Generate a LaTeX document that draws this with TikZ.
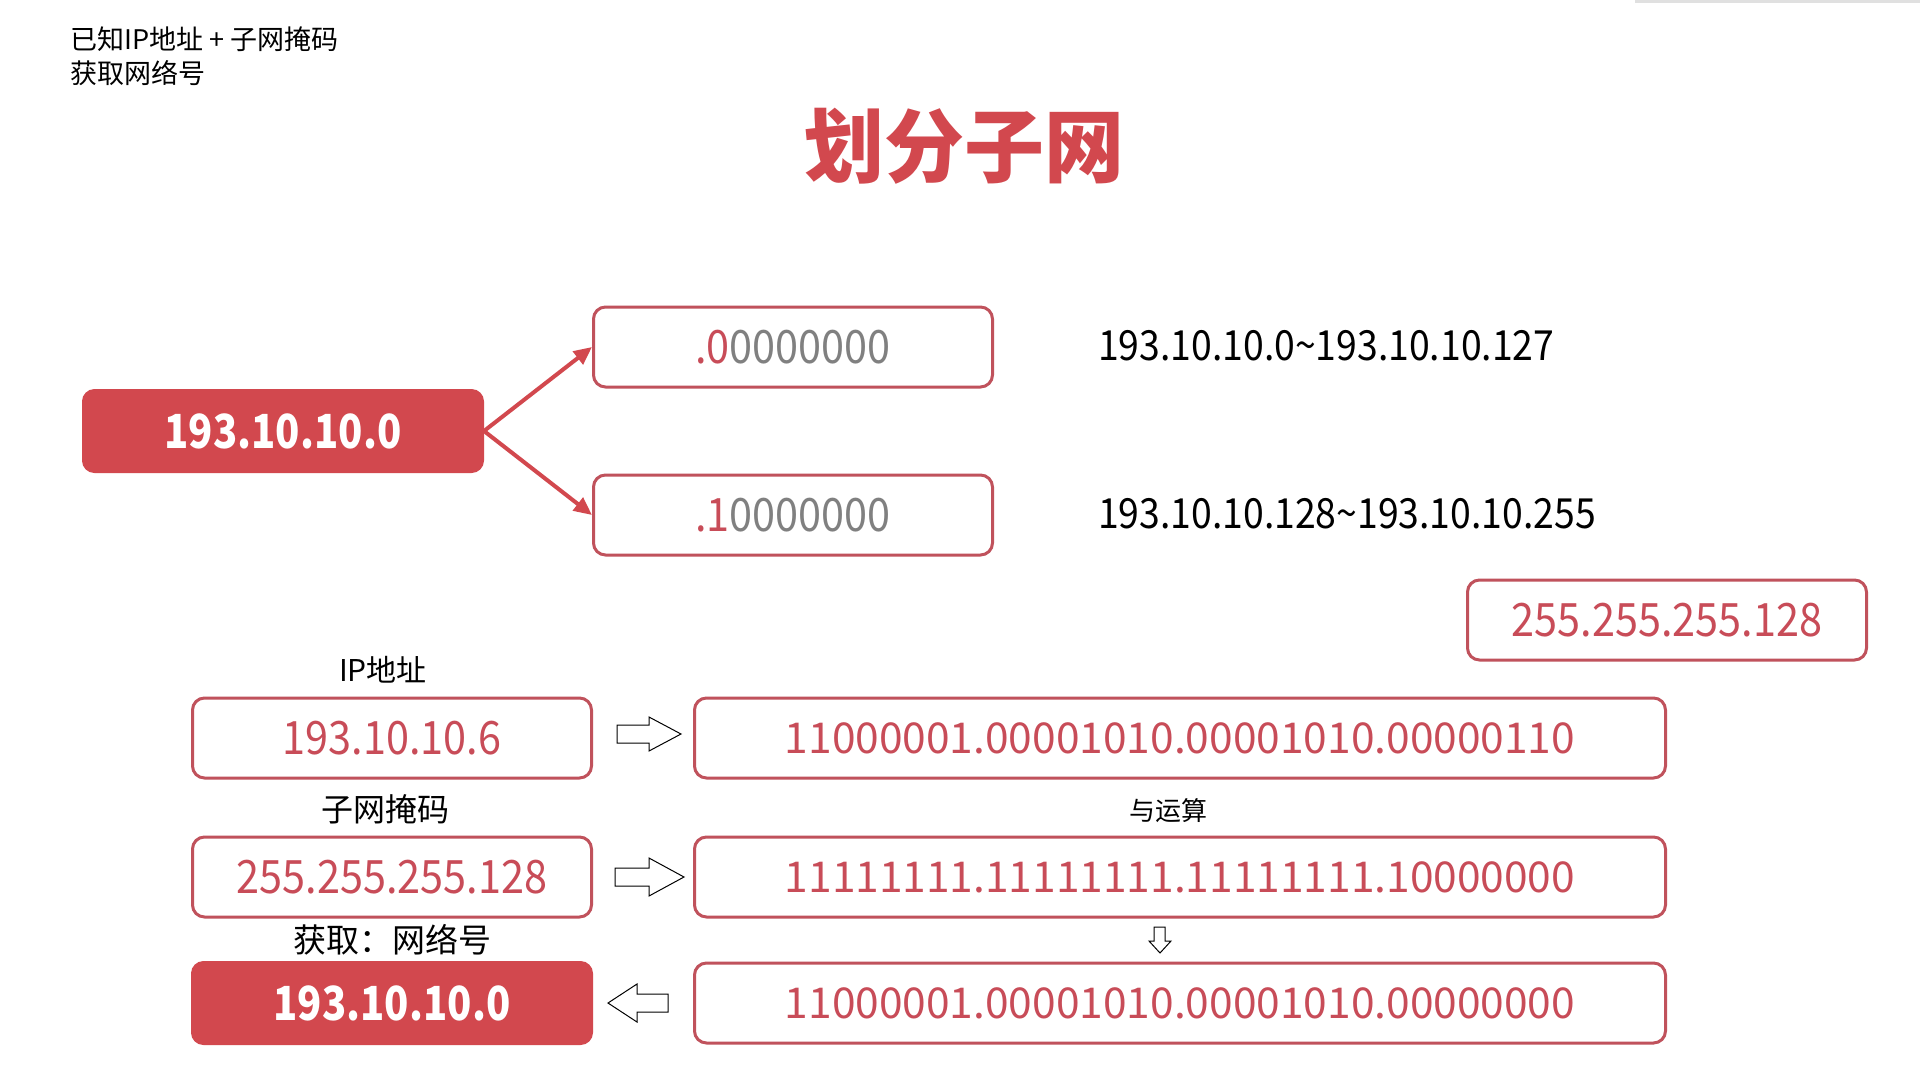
\documentclass[tikz,border=0pt]{standalone}
\usepackage{fontspec}
\setmainfont{Noto Sans CJK SC}
\newfontfamily\numA[FakeStretch=0.9]{Noto Sans CJK SC}
\newfontfamily\numB[FakeStretch=0.85]{Noto Sans CJK SC}
\usetikzlibrary{arrows.meta}
\definecolor{fillred}{RGB}{210,72,78}
\definecolor{linered}{RGB}{192,82,92}
\definecolor{txtred}{RGB}{200,76,88}
\definecolor{zgray}{RGB}{128,128,128}
\begin{document}
\begin{tikzpicture}[x=1pt,y=-1pt,
  wbox/.style={draw=linered, line width=3pt, rounded corners=12pt, fill=white,
    minimum width=399pt, minimum height=80pt, inner sep=0pt, text=txtred,
    font=\numA\fontsize{46}{50}\selectfont},
  bigbox/.style={wbox, minimum width=971pt, font=\fontsize{42.5}{46}\selectfont},
  redbox/.style={fill=fillred, draw=fillred, line width=1pt, rounded corners=12pt,
    minimum width=401pt, minimum height=83pt, inner sep=0pt, text=white,
    font=\numB\fontsize{47}{50}\selectfont\bfseries},
  lbl/.style={inner sep=0pt, text=black, font=\fontsize{32}{36}\selectfont},
  rng/.style={inner sep=0pt, anchor=west, text=black, font=\numA\fontsize{41.5}{46}\selectfont},
  conn/.style={draw=fillred, line width=4pt, -{Triangle[length=18pt,width=16pt]}},
  hollow/.style={draw=black, line width=1pt, fill=white}]
\useasboundingbox (0,0) rectangle (1920,1080);
\fill[white] (0,0) rectangle (1920,1080);
\fill[black!12] (1635,0) rectangle (1920,3);

% header text
\node[inner sep=0pt, anchor=west, font=\fontsize{27}{30}\selectfont] (h1) at (70,39) {已知IP地址 + 子网掩码};
\node[inner sep=0pt, anchor=west, font=\fontsize{27}{30}\selectfont] (h2) at (70,73) {获取网络号};
\node[inner sep=0pt, text=fillred, font=\fontsize{80}{90}\selectfont\bfseries] (title) at (964,146) {划分子网};

% top part
\node[redbox] (net) at (283,431) {193.10.10.0};
\node[wbox] (s0) at (793,347) {{\color{txtred}.0}{\color{zgray}0000000}};
\node[wbox] (s1) at (793,515) {{\color{txtred}.1}{\color{zgray}0000000}};
\draw[conn] (net.east) -- (s0.west);
\draw[conn] (net.east) -- (s1.west);
\node[rng] (r0) at (1098,346) {193.10.10.0\textasciitilde 193.10.10.127};
\node[rng] (r1) at (1098,514) {193.10.10.128\textasciitilde 193.10.10.255};
\node[wbox] (mask) at (1667,620) {255.255.255.128};

% bottom part
\node[lbl, font=\fontsize{30}{34}\selectfont] (lip) at (383,670) {IP地址};
\node[wbox] (ip) at (392,738) {193.10.10.6};
\node[bigbox] (ipb) at (1180,738) {11000001.00001010.00001010.00000110};
\node[lbl] (lmask) at (385,809) {子网掩码};
\node[lbl, font=\fontsize{26}{30}\selectfont] (land) at (1168,811) {与运算};
\node[wbox] (mk) at (392,877) {255.255.255.128};
\node[bigbox] (mkb) at (1180,877) {11111111.11111111.11111111.10000000};
\node[lbl, font=\fontsize{33}{36}\selectfont] (lnet) at (392,940) {获取：网络号};
\node[redbox] (res) at (392,1003) {193.10.10.0};
\node[bigbox] (resb) at (1180,1003) {11000001.00001010.00001010.00000000};

% hollow arrows
\draw[hollow] (617,725) -- (649,725) -- (649,717) -- (681,734) -- (649,751) -- (649,743) -- (617,743) -- cycle;
\draw[hollow] (615,868) -- (649,868) -- (649,858) -- (684,877) -- (649,896) -- (649,886) -- (615,886) -- cycle;
\draw[hollow] (668,994) -- (637,994) -- (637,984) -- (608,1003) -- (637,1022) -- (637,1012) -- (668,1012) -- cycle;
\draw[hollow] (1154,927) -- (1165,927) -- (1165,941) -- (1171,941) -- (1160,953) -- (1149,941) -- (1154,941) -- cycle;
\end{tikzpicture}
\end{document}
